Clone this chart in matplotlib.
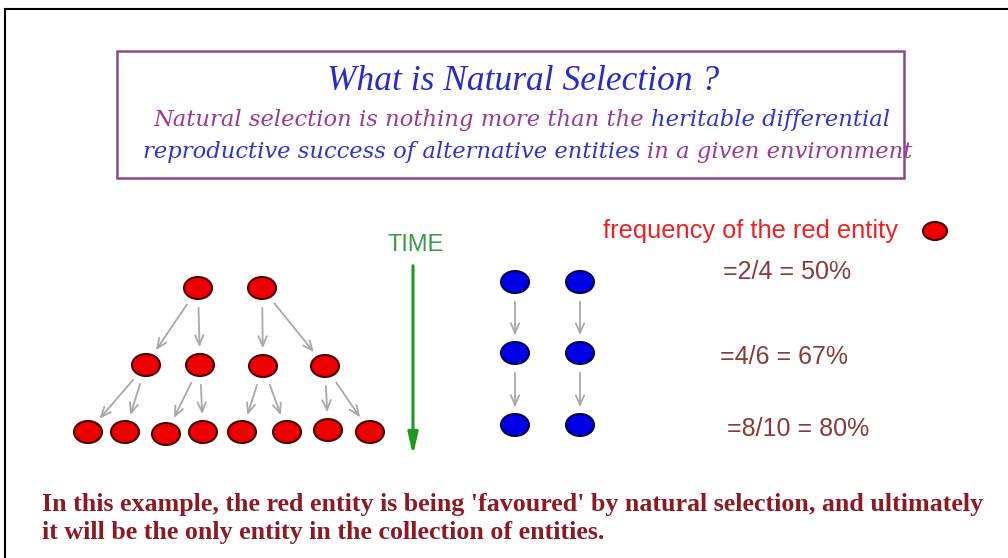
import matplotlib.pyplot as plt
import numpy as np
from matplotlib.patches import Ellipse, Rectangle

# node positions (pixel coords of the slide)
red_x = [198, 262, 146, 200, 263, 325, 88, 125, 166, 203, 242, 287, 328, 370]
red_y = [288, 288, 365, 365, 366, 366, 432, 432, 434, 432, 432, 432, 430, 432]
# parent -> child links
red_links = [(0, 2), (0, 3), (1, 4), (1, 5),
             (2, 6), (2, 7), (3, 8), (3, 9), (4, 10), (4, 11), (5, 12), (5, 13)]

blue_x = [515, 580, 515, 580, 515, 580]
blue_y = [282, 282, 353, 353, 425, 425]
blue_links = [(0, 2), (1, 3), (2, 4), (3, 5)]

freq_labels = ['=2/4 = 50%', '=4/6 = 67%', '=8/10 = 80%']
freq_x = [723, 720, 727]
freq_y = [272, 357, 429]

title = 'What is Natural Selection ?'
sub1 = [('Natural selection is nothing more than the ', '#993a99'),
        ('heritable differential', '#3333cc')]
sub2 = [('reproductive success of alternative entities ', '#3333cc'),
        ('in a given environment', '#993a99')]
bottom = ["In this example, the red entity is being 'favoured' by natural selection, and ultimately",
          "it will be the only entity in the collection of entities."]

fig = plt.figure(figsize=(10.08, 5.58), dpi=100)
ax = fig.add_axes([0, 0, 1, 1])
ax.set_xlim(0, 1008)
ax.set_ylim(558, 0)
ax.axis('off')

# slide frame (top and left only)
ax.plot([5, 1008], [9, 9], color='black', lw=1.5)
ax.plot([5, 5], [9, 558], color='black', lw=1.5)

# title box
ax.add_patch(Rectangle((117, 51), 787, 127, fill=False, ec='#8a4a8a', lw=1.8))
ax.text(523, 82, title, ha='center', va='center', family='Liberation Serif',
        style='italic', fontsize=25.5, color='#2a2ac8')


def colored_line(x, y, parts, **kw):
    t = ax.text(x, y, parts[0][0], color=parts[0][1], va='center', **kw)
    for s, c in parts[1:]:
        t = ax.annotate(s, xycoords=t, xy=(1, 0), va='bottom', color=c, **kw)


kw = dict(family='DejaVu Serif', style='italic', fontsize=16.3)
colored_line(153, 120, sub1, **kw)
colored_line(143, 152, sub2, **kw)

arrow_kw = dict(arrowstyle='->,head_length=0.7,head_width=0.3', color='#a8a8a8', lw=1.3)


def links(xs, ys, pairs, r=13):
    for p, c in pairs:
        x0, y0, x1, y1 = xs[p], ys[p], xs[c], ys[c]
        d = np.hypot(x1 - x0, y1 - y0)
        ux, uy = (x1 - x0) / d, (y1 - y0) / d
        ax.annotate('', xy=(x1 - ux * (r + 2), y1 - uy * (r + 2)),
                    xytext=(x0 + ux * (r + 4), y0 + uy * (r + 4)),
                    arrowprops=arrow_kw)


links(red_x, red_y, red_links)
links(blue_x, blue_y, blue_links)

for x, y in zip(red_x, red_y):
    ax.add_patch(Ellipse((x, y), 28, 22, fc='#ee0000', ec='#4a0000', lw=1.5, zorder=3))
for x, y in zip(blue_x, blue_y):
    ax.add_patch(Ellipse((x, y), 28, 22, fc='#0000e6', ec='#000050', lw=1.5, zorder=3))

# time arrow
ax.text(416, 245, 'TIME', ha='center', va='center', family='Liberation Sans',
        fontsize=17, color='#3a9a4a')
ax.annotate('', xy=(413, 458), xytext=(413, 263),
            arrowprops=dict(arrowstyle='-|>,head_length=1.3,head_width=0.3',
                            color='#1e9a1e', lw=2.2))

# frequency text
ax.text(603, 231, 'frequency of the red entity', va='center', family='Liberation Sans',
        fontsize=18.3, color='#ee2222')
ax.add_patch(Ellipse((935, 231), 24, 18, fc='#ee0000', ec='#4a0000', lw=1.5))
for s, x, y in zip(freq_labels, freq_x, freq_y):
    ax.text(x, y, s, va='center', family='Liberation Sans', fontsize=18, color='#8a3a3a')

for i, s in enumerate(bottom):
    ax.text(42, 505 + 27 * i, s, va='center', family='Liberation Serif',
            weight='bold', fontsize=18.7, color='#8b1a24')

fig.savefig('out.png', dpi=100)
